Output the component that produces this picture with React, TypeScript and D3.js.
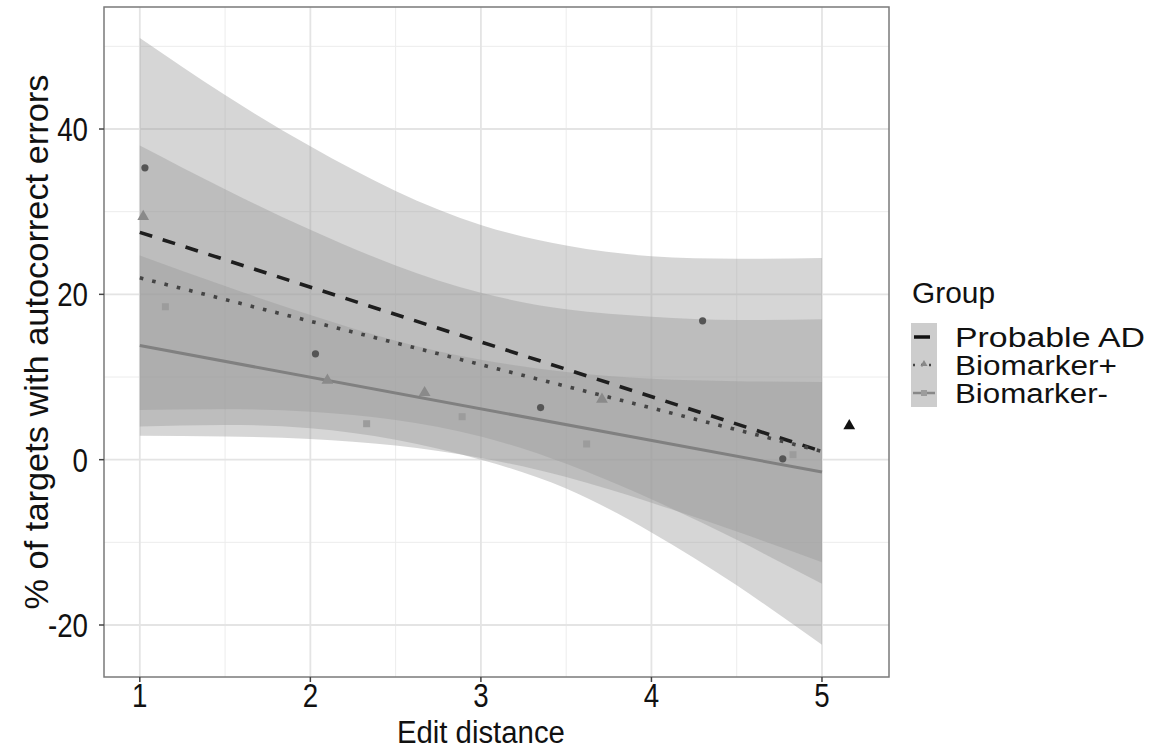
import React from 'react';
import * as d3 from 'd3';

// band / fit values, at these edit distances
const bandX = [1, 1.5, 2, 2.5, 3, 3.5, 4, 4.5, 5];

const adUpper = [51.0, 44.1, 37.9, 32.5, 28.4, 25.9, 24.6, 24.3, 24.4];
const adLower = [4.0, 4.2, 3.8, 2.4, 0.0, -3.5, -8.8, -15.2, -22.4];
const bpUpper = [38.0, 32.7, 27.8, 23.5, 20.2, 18.2, 17.3, 16.9, 17.0];
const bpLower = [6.0, 6.1, 5.8, 4.8, 2.8, -0.5, -4.8, -9.7, -15.0];
const bmUpper = [24.7, 21.0, 17.5, 14.4, 12.1, 10.6, 9.8, 9.5, 9.4];
const bmLower = [2.9, 2.8, 2.5, 1.7, 0.2, -2.1, -5.2, -8.7, -12.4];

// fitted lines: value at x = 1 and x = 5
const fitX = [1, 5];
const adFit = [27.5, 1.0];
const bpFit = [22.0, 1.0];
const bmFit = [13.8, -1.5];

// observed points
const adPointsX = [1.03, 2.03, 3.35, 4.3, 4.77];
const adPointsY = [35.3, 12.8, 6.3, 16.8, 0.1];
const bpPointsX = [1.02, 2.1, 2.67, 3.71];
const bpPointsY = [29.4, 9.6, 8.1, 7.3];
const bpExtraX = [5.16];
const bpExtraY = [4.1];
const bmPointsX = [1.15, 2.33, 2.89, 3.62, 4.83];
const bmPointsY = [18.5, 4.35, 5.2, 1.9, 0.6];

const xTicks = [1, 2, 3, 4, 5];
const xMinor = [1.5, 2.5, 3.5, 4.5];
const yTicks = [-20, 0, 20, 40];
const yMinor = [-10, 10, 30, 50];

const groups = ['Probable AD', 'Biomarker+', 'Biomarker-'];

const W = 1157;
const H = 750;
const panel = { left: 104, right: 889, top: 7, bottom: 677 };
const FONT = '"Liberation Sans", Arial, Helvetica, sans-serif';

const x = d3.scaleLinear().domain([0.79, 5.393]).range([panel.left, panel.right]);
const y = d3.scaleLinear().domain([-26.29, 54.76]).range([panel.bottom, panel.top]);

const App = () => {
  const area = (upper: number[], lower: number[]) =>
    d3.area<number>()
      .x(i => x(bandX[i]))
      .y0(i => y(lower[i]))
      .y1(i => y(upper[i]))
      .curve(d3.curveNatural)(bandX.map((_, i) => i)) || '';

  const line = (vals: number[]) =>
    d3.line<number>()
      .x(i => x(fitX[i]))
      .y(i => y(vals[i]))(fitX.map((_, i) => i)) || '';

  const tri = d3.symbol().type(d3.symbolTriangle).size(60)() || '';

  const bands = [
    [adUpper, adLower],
    [bpUpper, bpLower],
    [bmUpper, bmLower],
  ];

  return (
    <svg width={W} height={H} style={{ position: 'absolute', left: 0, top: 0, background: '#fff' }}>
      {/* grid */}
      <g>
        {xMinor.map(v => (
          <line key={'xm' + v} x1={x(v)} x2={x(v)} y1={panel.top} y2={panel.bottom} stroke="#ececec" strokeWidth={1} />
        ))}
        {yMinor.map(v => (
          <line key={'ym' + v} x1={panel.left} x2={panel.right} y1={y(v)} y2={y(v)} stroke="#ececec" strokeWidth={1} />
        ))}
        {xTicks.map(v => (
          <line key={'x' + v} x1={x(v)} x2={x(v)} y1={panel.top} y2={panel.bottom} stroke="#e4e4e4" strokeWidth={1.8} />
        ))}
        {yTicks.map(v => (
          <line key={'y' + v} x1={panel.left} x2={panel.right} y1={y(v)} y2={y(v)} stroke="#e4e4e4" strokeWidth={1.8} />
        ))}
      </g>

      {/* confidence ribbons */}
      {bands.map((b, i) => (
        <path key={'band' + i} d={area(b[0], b[1])} fill="#999999" fillOpacity={0.4} />
      ))}

      {/* fits */}
      <path d={line(adFit)} stroke="#1e1e1e" strokeWidth={3.6} fill="none" strokeDasharray="13 11" />
      <path d={line(bpFit)} stroke="#444" strokeWidth={3.6} fill="none" strokeDasharray="3.6 9.1" />
      <path d={line(bmFit)} stroke="#808080" strokeWidth={3} fill="none" />

      {/* points */}
      {adPointsX.map((v, i) => (
        <circle key={'ad' + i} cx={x(v)} cy={y(adPointsY[i])} r={3.6} fill="#555" />
      ))}
      {bpPointsX.map((v, i) => (
        <path key={'bp' + i} d={tri} transform={`translate(${x(v)},${y(bpPointsY[i])})`} fill="#8a8a8a" />
      ))}
      {bpExtraX.map((v, i) => (
        <path key={'bpx' + i} d={tri} transform={`translate(${x(v)},${y(bpExtraY[i])})`} fill="#111" />
      ))}
      {bmPointsX.map((v, i) => (
        <rect key={'bm' + i} x={x(v) - 3.5} y={y(bmPointsY[i]) - 3.5} width={7} height={7} fill="#9c9c9c" />
      ))}

      {/* panel border */}
      <rect x={panel.left} y={panel.top} width={panel.right - panel.left} height={panel.bottom - panel.top}
        fill="none" stroke="#7a7a7a" strokeWidth={1.5} />

      {/* axes */}
      <g fontFamily={FONT} fontSize={33} fill="#111">
        {yTicks.map(v => (
          <g key={'yt' + v}>
            <line x1={panel.left - 5} x2={panel.left} y1={y(v)} y2={y(v)} stroke="#444" strokeWidth={1.5} />
            <text transform={`translate(${panel.left - 16},${y(v) + 12}) scale(0.84,1)`} textAnchor="end">{v}</text>
          </g>
        ))}
        {xTicks.map(v => (
          <g key={'xt' + v}>
            <line x1={x(v)} x2={x(v)} y1={panel.bottom} y2={panel.bottom + 5} stroke="#444" strokeWidth={1.5} />
            <text transform={`translate(${x(v)},${panel.bottom + 30}) scale(0.84,1)`} textAnchor="middle">{v}</text>
          </g>
        ))}
        <text x={(x(1) + x(5)) / 2} y={743} textAnchor="middle" fontSize={31}
          textLength={168} lengthAdjust="spacingAndGlyphs">Edit distance</text>
        <text transform={`translate(48,${(panel.top + panel.bottom) / 2}) rotate(-90)`} textAnchor="middle"
          fontSize={34} textLength={535} lengthAdjust="spacingAndGlyphs">% of targets with autocorrect errors</text>
      </g>

      {/* legend */}
      <g fontFamily={FONT} fill="#111">
        <text x={912} y={303} fontSize={29} textLength={83} lengthAdjust="spacingAndGlyphs">Group</text>
        <rect x={911} y={323} width={26} height={84} fill="#cdcdcd" />
        <line x1={914} x2={930} y1={337} y2={337} stroke="#111" strokeWidth={3.5} />
        <line x1={913} x2={935} y1={365} y2={365} stroke="#444" strokeWidth={2.5} strokeDasharray="2 6" />
        <path d={d3.symbol().type(d3.symbolTriangle).size(22)() || ''} transform="translate(924,364)" fill="#888" />
        <line x1={913} x2={935} y1={393} y2={393} stroke="#888" strokeWidth={2.5} />
        <rect x={921} y={390} width={6} height={6} fill="#9c9c9c" />
        {groups.map((g, i) => (
          <text key={g} x={955} y={347 + i * 28} fontSize={27}
            textLength={[190, 162, 153][i]} lengthAdjust="spacingAndGlyphs">{g}</text>
        ))}
      </g>
    </svg>
  );
};

export default App;
